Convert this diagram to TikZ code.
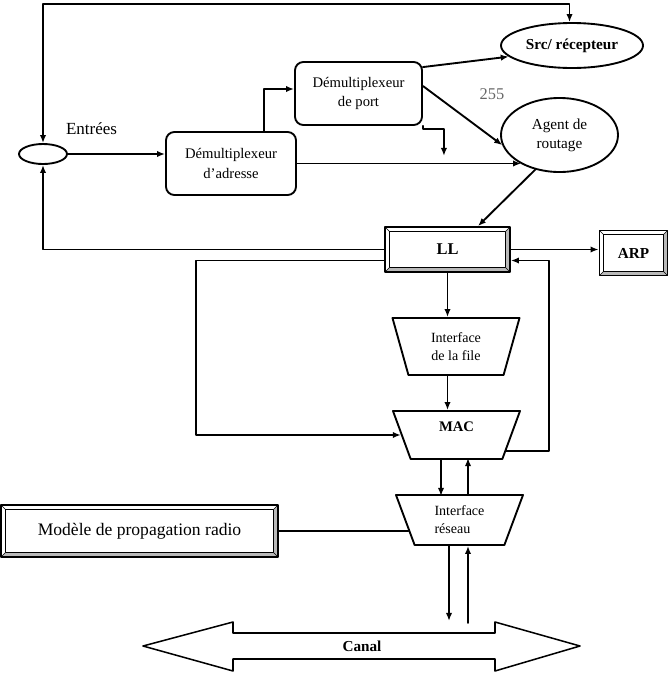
\documentclass[tikz,border=0pt]{standalone}
\usepackage{fontspec}
\setmainfont{Liberation Serif}
\usetikzlibrary{shapes.geometric}
\usetikzlibrary{arrows.meta}
\usetikzlibrary{calc}
\newcommand{\bevel}{
  \coordinate (bsw) at (path picture bounding box.south west);
  \coordinate (bne) at (path picture bounding box.north east);
  \coordinate (bse) at (bsw -| bne);
  \coordinate (bnw) at (bsw |- bne);
  \fill[gray!55] (bne) -- (bse) -- (bsw) -- ([shift = {(3.5pt, 3.5pt)}]bsw)
    -- ([shift = {(-3.5pt, 3.5pt)}]bse) -- ([shift = {(-3.5pt, -3.5pt)}]bne) -- cycle;
  \draw[line width = 0.8pt] ([shift = {(3.5pt, 3.5pt)}]bsw) rectangle ([shift = {(-3.5pt, -3.5pt)}]bne);
  \draw[line width = 0.5pt] (bsw) -- ++(3.5pt, 3.5pt) (bne) -- ++(-3.5pt, -3.5pt)
    (bse) -- ++(-3.5pt, 3.5pt) (bnw) -- ++(3.5pt, -3.5pt);}
\tikzset{
  demux/.style = {draw, rounded corners = 2.5mm, minimum height = 18.9mm, align = center,
    font = \fontsize{12.5}{17}\selectfont},
  bulle/.style = {draw, ellipse, inner sep = 0pt, align = center},
  cadre/.style = {draw, fill = white, path picture = {\bevel}, font = \bfseries\fontsize{14}{16}\selectfont},
  entonnoir/.style = {draw, trapezium, shape border rotate = 180, trapezium stretches body = true,
    minimum width = 38.1mm, align = center, font = \fontsize{12}{15.3}\selectfont}}

\begin{document}
\begin{tikzpicture}[x = 0.3mm, y = -0.3mm, line cap = round, line join = round, line width = 1.6pt,
  >={Latex[length = 2.4mm, width = 1.9mm]}]
  \useasboundingbox (0, 0) rectangle (669, 690);

  \node[draw, ellipse, minimum width = 14.4mm, minimum height = 6mm, inner sep = 0pt] (in) at (43, 154) {};
  \node[font = \fontsize{14.5}{17}\selectfont] (entrees) at (91.5, 129) {Entrées};

  \node[demux, minimum width = 39mm] (adr) at (231, 163.5) {Démultiplexeur\\d’adresse};
  \node[demux, minimum width = 38.1mm] (port) at (358.5, 93.5) {Démultiplexeur\\de port};

  \node[bulle, minimum width = 42.6mm, minimum height = 13.5mm,
    font = \bfseries\fontsize{13}{16}\selectfont] (src) at (572, 45.5) {Src/ récepteur};
  \node[bulle, minimum width = 35.1mm, minimum height = 22.2mm,
    font = \fontsize{13}{16}\selectfont] (agent) at (559.5, 135) {Agent de\\routage};
  \node[font = \fontsize{14}{16}\selectfont, text = black!60] (num) at (492, 94) {255};

  \node[cadre, minimum width = 37.5mm, minimum height = 13.5mm] (ll) at (447.5, 249.5) {LL};
  \node[cadre, minimum width = 20.4mm, minimum height = 13.5mm,
    font = \bfseries\fontsize{13}{16}\selectfont] (arp) at (633.5, 253) {ARP};

  \node[entonnoir, minimum height = 17.1mm, trapezium angle = 66] (file) at (456, 346.5) {Interface\\de la file};
  \node[entonnoir, minimum height = 14.4mm, trapezium angle = 62.5,
    font = \bfseries\fontsize{12.5}{14}\selectfont] (mac) at (456.5, 435) {MAC\\\mbox{}};
  \node[entonnoir, minimum height = 15mm, trapezium angle = 62.5, align = left] (net) at (459.5, 520) {Interface\\réseau};

  \node[cadre, minimum width = 83.1mm, minimum height = 15.6mm,
    font = \fontsize{15}{18}\selectfont] (modele) at (139.5, 531) {Modèle de propagation radio};

  \draw[line width = 1.3pt] (143, 646) -- (233, 622) -- (233, 633) -- (495, 633) -- (495, 622) -- (580, 646)
    -- (495, 671) -- (495, 659) -- (233, 659) -- (233, 671) -- cycle;
  \node[font = \bfseries\fontsize{13}{16}\selectfont] (canal) at (362, 646) {Canal};

  \draw[<->] (in.north) -- ++(0, -139) -| (src.96);
  \draw[->] (in.east) -- (in.east -| adr.west);
  \draw[->] ($(adr.north) + (33, 0)$) |- ($(port.west) + (0, -4.5)$);
  \draw[->] ($(port.north east) + (0, 6)$) -- (src.190);
  \draw[->] ($(port.east) + (0, -7.5)$) -- (agent.190);
  \draw[->] (adr.east) -- (adr.east -| agent.217);
  \draw[->] (port.south east) -- ++(0, 3) -| ++(21, 27);
  \draw[->] (agent.235) -- ($(ll.north) + (30.5, 0)$);

  \draw[->] (ll.east) -- (ll.east -| arp.west);
  \draw[->] (ll.west) -| (in.south);
  \draw[->] ($(ll.west) + (0, 11)$) -- ++(-188, 0) |- (mac.west);
  \draw[->] (mac.-18) -- ++(43, 0) |- ($(ll.east) + (0, 11)$);
  \draw[->] (ll.south) -- (ll.south |- file.north);
  \draw[->] (ll.south |- file.south) -- (ll.south |- mac.north);

  \draw[->] ($(mac.south) + (-15.5, 0)$) -- ++(0, 36);
  \draw[->] ($(net.north) + (8.5, 0)$) -- ++(0, -36);
  \draw[->] ($(net.south) + (-10.5, 0)$) -- ++(0, 75);
  \draw[<-] ($(net.south) + (8.5, 0)$) -- ++(0, 77);
  \draw (modele.east) -- (modele.east -| net.192);
\end{tikzpicture}
\end{document}
